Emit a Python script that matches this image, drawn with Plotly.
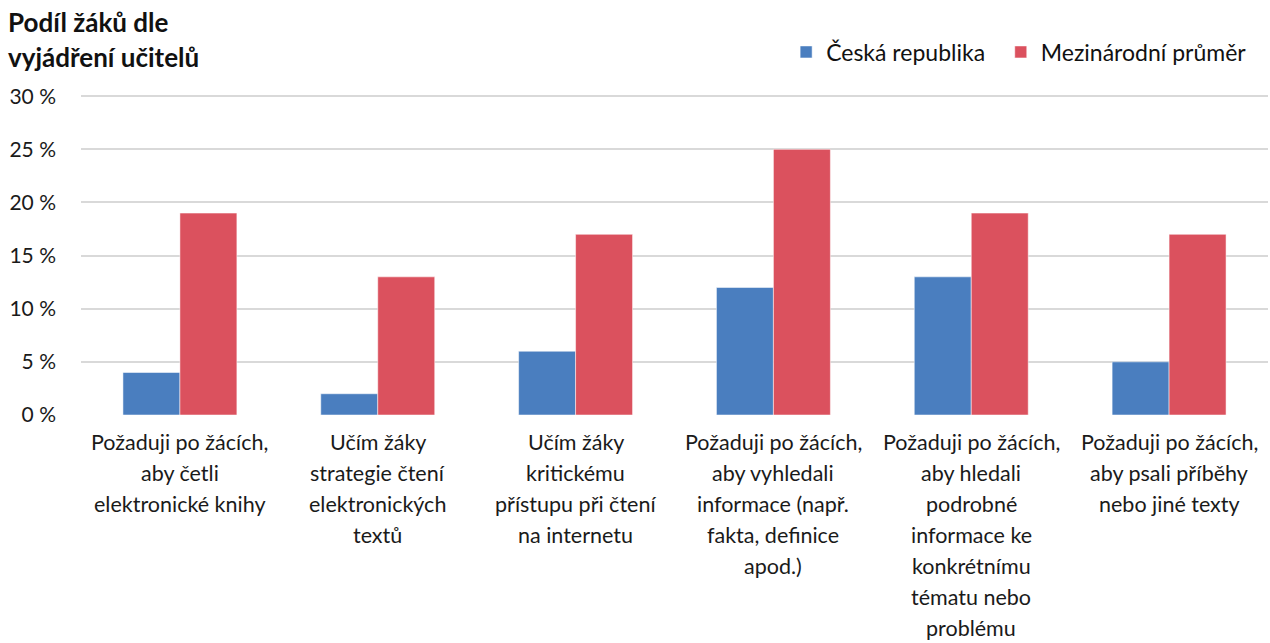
import plotly.graph_objects as go

categories = [
    ["Požaduji po žácích,", "aby četli", "elektronické knihy"],
    ["Učím žáky", "strategie čtení", "elektronických", "textů"],
    ["Učím žáky", "kritickému", "přístupu při čtení", "na internetu"],
    ["Požaduji po žácích,", "aby vyhledali", "informace (např.", "fakta, definice", "apod.)"],
    ["Požaduji po žácích,", "aby hledali", "podrobné", "informace ke", "konkrétnímu", "tématu nebo", "problému"],
    ["Požaduji po žácích,", "aby psali příběhy", "nebo jiné texty"],
]
cz_values = [4, 2, 6, 12, 13, 5]
intl_values = [19, 13, 17, 25, 19, 17]
series_names = ["Česká republika", "Mezinárodní průměr"]
tick_vals = [0, 5, 10, 15, 20, 25, 30]
tick_text = ["0 %", "5 %", "10 %", "15 %", "20 %", "25 %", "30 %"]
title_lines = ["Podíl žáků dle", "vyjádření učitelů"]

FONT = "Lato"
BLUE = "#4a7ebf"
RED = "#db515e"
TXT = "#1a1a1a"

x_keys = [f"c{i}" for i in range(len(categories))]

fig = go.Figure()
fig.add_trace(go.Bar(x=x_keys, y=cz_values, name=series_names[0], legend="legend",
                     marker=dict(color=BLUE, line=dict(color="rgba(255,255,255,0.5)", width=1))))
fig.add_trace(go.Bar(x=x_keys, y=intl_values, name=series_names[1], legend="legend2",
                     marker=dict(color=RED, line=dict(color="rgba(255,255,255,0.5)", width=1))))

annotations = []
for key, lines in zip(x_keys, categories):
    for j, line in enumerate(lines):
        annotations.append(dict(x=key, xref="x", y=0, yref="paper", text=line,
                                showarrow=False, xanchor="center", yanchor="middle",
                                yshift=-(27 + 31 * j),
                                font=dict(family=FONT, size=21.5, color=TXT)))
for j, line in enumerate(title_lines):
    annotations.append(dict(x=-0.063, xref="paper", y=1, yref="paper",
                            text=f"<b>{line}</b>", showarrow=False,
                            xanchor="left", yanchor="middle", yshift=71 - 35 * j,
                            font=dict(family=FONT, size=26, color="#111111")))

legend_common = dict(orientation="h", xref="container", yref="container",
                     xanchor="left", y=1 - 52 / 643, yanchor="middle",
                     font=dict(family=FONT, size=23, color="#111111"),
                     itemwidth=30, bgcolor="rgba(0,0,0,0)")

fig.update_layout(
    width=1270, height=643,
    margin=dict(l=81, r=2, t=93, b=228, pad=0, autoexpand=False),
    paper_bgcolor="white", plot_bgcolor="white",
    barmode="group", bargap=0.424, bargroupgap=0,
    font=dict(family=FONT, size=21, color=TXT),
    showlegend=True,
    legend=dict(x=0.619, **legend_common),
    legend2=dict(x=0.788, **legend_common),
    annotations=annotations,
)
fig.update_xaxes(showticklabels=False, showline=False, showgrid=False, zeroline=False)
fig.update_yaxes(range=[0, 30.3], tickvals=tick_vals, ticktext=tick_text,
                 showgrid=True, gridcolor="#d9d9d9", gridwidth=1.5, automargin=False,
                 zeroline=False, showline=False, ticks="", ticklabelstandoff=24,
                 tickfont=dict(family=FONT, size=21, color=TXT))

fig.write_html("out.html", config={"displayModeBar": False},
               post_script="document.body.style.margin='0';document.body.style.padding='0';")
